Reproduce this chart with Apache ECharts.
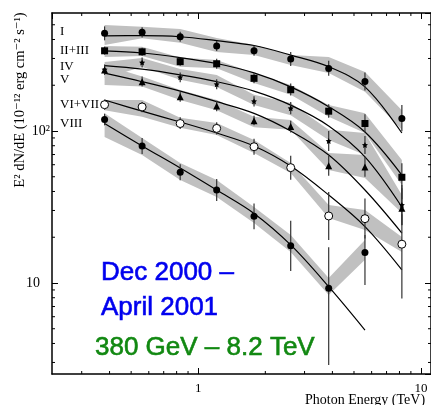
<!DOCTYPE html>
<html>
<head>
<meta charset="utf-8">
<script src="https://cdn.jsdelivr.net/npm/echarts@6/dist/echarts.min.js"></script>
<style>
  html, body { margin: 0; padding: 0; background: #fff; }
  #chart { width: 431px; height: 405px; }
</style>
</head>
<body>
<div id="chart"></div>
<script>
// Photon energy bins (TeV)
const energies = [0.38, 0.56, 0.83, 1.21, 1.78, 2.6, 3.85, 5.6, 8.2];

// Flux state I
const fluxI    = [439, 446, 417, 362, 337, 298, 258, 212, 121];
const errLoI   = [395, 413, 387, 336, 313, 268, 231, 185, 99.5];
const errHiI   = [488, 481, 450, 391, 364, 331, 290, 243, 148];
const bandLoI  = [368, 407, 381, 331, 316, 272, 241, 181, 102];
const bandHiI  = [498, 486, 469, 409, 368, 316, 307, 244, 137];
const fitI     = [422, 424, 417, 393, 365, 316, 265, 195, 97];

// Flux states II+III
const fluxII   = [337, 332, 286, 277, 222, 187, 135, 112, 49.6];
const errLoII  = [318, 313, 269, 257, 206, 171, 122, 98, 35.5];
const errHiII  = [359, 353, 304, 299, 240, 205, 150, 129, 61.3];
const bandLoII = [307, 311, 265, 259, 207, 173, 124, 97, 44.1];
const bandHiII = [362, 359, 305, 293, 241, 201, 148, 131, 64.5];
const fitII    = [337, 326, 304, 278, 241, 195, 144.5, 98.5, 51.3];

// Flux state IV
const fluxIV   = [254, 282, 226, 203, 157, 141, 86, 81, 32.6];
const errLoIV  = [235, 262, 209, 188, 145, 129, 73.8, 70.6, 24.1];
const errHiIV  = [274, 304, 243, 219, 169, 155, 100, 92.7, 44.1];
const bandLoIV = [223, 264, 217, 195, 148, 127, 87.3, 69.5, 30.2];
const bandHiIV = [284, 302, 256, 234, 173, 153, 102, 97, 37.9];
const fitIV    = [269, 255, 234, 211, 183, 148, 108, 67.5, 31.6];

// Flux state V
const fluxV    = [252, 211, 168, 146, 117, 107, 59, 58, 31];
const errLoV   = [234, 196, 156, 135, 109, 97.7, 50.8, 50, 24];
const errHiV   = [272, 228, 181, 158, 126, 117, 68.8, 67.7, 42];
const bandLoV  = [201, 196, 160, 137, 106, 102, 55.4, 49.1, 28.9];
const bandHiV  = [272, 228, 186, 160, 124, 118, 71.7, 69.5, 35.2];
const fitV     = [240, 211, 183, 156, 130.7, 100, 69.5, 40.9, 21.3];

// Flux states VI+VII
const fluxVI   = [149, 144, 112, 104, 78.8, 57.4, 27.6, 26.5, 18.0];
const errLoVI  = [138, 133, 103, 94.8, 69.8, 47.8, 19.2, 19.6, 7.9];
const errHiVI  = [161, 155, 123, 114, 89, 68.8, 39.7, 35.9, 28.3];
const bandLoVI = [137, 124, 105, 94.1, 71.7, 52.9, 26.8, 22.3, 16.0];
const bandHiVI = [160, 160, 122, 113, 87.3, 61.6, 32.6, 30.2, 20.1];
const fitVI    = [160, 135, 114.6, 97, 79.7, 58.8, 37.9, 23.5, 12.2];

// Flux state VIII (no 8.2 TeV bin)
const fluxVIII   = [119, 79.7, 53.5, 40.9, 27.5, 17.6, 9.23, 15.9];
const errLoVIII  = [109, 70.6, 47.4, 34.6, 22.6, 12.0, 2.89, 9.7];
const errHiVIII  = [130, 89.9, 60.4, 48.3, 33.4, 25.7, 17.2, 20.7];
const bandLoVIII = [91.3, 69.5, 47.6, 36.8, 24.8, 16.0, 8.34, 14.2];
const bandHiVIII = [131, 89.9, 61.6, 47.6, 31.6, 20.7, 10.8, 19.2];
const fitVIII    = [112, 79.7, 57.1, 40.9, 28.7, 17.8, 9.46, 4.9];

// Axis ranges and tick positions
const X_MIN = 0.2207, X_MAX = 11.08;
const Y_MIN = 2.519, Y_MAX = 597.5;
const xMinorTicks = [0.3, 0.4, 0.5, 0.6, 0.7, 0.8, 0.9, 2, 3, 4, 5, 6, 7, 8, 9];
const yMinorTicks = [3, 4, 5, 6, 7, 8, 9, 20, 30, 40, 50, 60, 70, 80, 90, 200, 300, 400, 500];

const SERIF = "'Liberation Serif', 'DejaVu Serif', serif";
const SANS = "'Liberation Sans', Arial, sans-serif";

const STAR = 'path://M0,-10 L2.9,-4 9.5,-3.1 4.7,1.5 5.9,8.1 0,5 -5.9,8.1 -4.7,1.5 -9.5,-3.1 -2.9,-4Z';

const states = [
  { name: 'I',      flux: fluxI,    lo: errLoI,    hi: errHiI,    bLo: bandLoI,    bHi: bandHiI,    fit: fitI,    symbol: 'circle',   size: 7, fill: '#000' },
  { name: 'II+III', flux: fluxII,   lo: errLoII,   hi: errHiII,   bLo: bandLoII,   bHi: bandHiII,   fit: fitII,   symbol: 'rect',     size: 7, fill: '#000' },
  { name: 'IV',     flux: fluxIV,   lo: errLoIV,   hi: errHiIV,   bLo: bandLoIV,   bHi: bandHiIV,   fit: fitIV,   symbol: STAR,       size: 6, fill: '#000' },
  { name: 'V',      flux: fluxV,    lo: errLoV,    hi: errHiV,    bLo: bandLoV,    bHi: bandHiV,    fit: fitV,    symbol: 'triangle', size: 7, fill: '#000' },
  { name: 'VI+VII', flux: fluxVI,   lo: errLoVI,   hi: errHiVI,   bLo: bandLoVI,   bHi: bandHiVI,   fit: fitVI,   symbol: 'circle',   size: 8, fill: '#fff' },
  { name: 'VIII',   flux: fluxVIII, lo: errLoVIII, hi: errHiVIII, bLo: bandLoVIII, bHi: bandHiVIII, fit: fitVIII, symbol: 'circle',   size: 7, fill: '#000' }
];

const series = [];

// grey systematic bands
states.forEach(s => {
  series.push({
    type: 'custom', name: s.name + ' band', z: 1, silent: true,
    data: s.bLo.map((v, i) => [energies[i], v, s.bHi[i]]),
    encode: { x: 0, y: [1, 2] },
    renderItem: (params, api) => {
      if (params.dataIndex !== 0) return null;
      const top = [], bot = [];
      for (let i = 0; i < s.bLo.length; i++) {
        top.push(api.coord([energies[i], s.bHi[i]]));
        bot.push(api.coord([energies[i], s.bLo[i]]));
      }
      return { type: 'polygon', shape: { points: top.concat(bot.reverse()) }, style: { fill: '#c0c0c0' } };
    }
  });
});

// fitted spectra
states.forEach(s => {
  series.push({
    type: 'line', name: s.name + ' fit', z: 2, silent: true,
    data: s.fit.map((v, i) => [energies[i], v]),
    smooth: 0.35, showSymbol: false, symbol: 'none',
    lineStyle: { color: '#000', width: 1.2 }
  });
});

// vertical error bars
states.forEach(s => {
  series.push({
    type: 'custom', name: s.name + ' err', z: 3, silent: true,
    data: s.lo.map((v, i) => [energies[i], v, s.hi[i]]),
    encode: { x: 0, y: [1, 2] },
    renderItem: (params, api) => {
      const e = api.value(0);
      const p1 = api.coord([e, api.value(1)]);
      const p2 = api.coord([e, api.value(2)]);
      return { type: 'line', shape: { x1: p1[0], y1: p1[1], x2: p2[0], y2: p2[1] },
               style: { stroke: '#333', lineWidth: 1.2 } };
    }
  });
});

// data points
states.forEach(s => {
  series.push({
    type: 'scatter', name: s.name, z: 4, silent: true,
    data: s.flux.map((v, i) => [energies[i], v]),
    symbol: s.symbol, symbolSize: s.size,
    itemStyle: { color: s.fill, borderColor: '#000', borderWidth: s.fill === '#fff' ? 1 : 0, opacity: 1 }
  });
});

// minor ticks on all four sides
const tickStyle = { stroke: '#000', lineWidth: 1 };
series.push({
  type: 'custom', name: 'x minor ticks', z: 5, silent: true, clip: false,
  data: xMinorTicks.map(v => [v, Y_MIN]),
  encode: { x: 0, y: 1 },
  renderItem: (params, api) => {
    const cs = params.coordSys;
    const p = api.coord([api.value(0), Y_MIN]);
    const b = cs.y + cs.height;
    return { type: 'group', children: [
      { type: 'line', shape: { x1: p[0], y1: b, x2: p[0], y2: b - 3 }, style: tickStyle },
      { type: 'line', shape: { x1: p[0], y1: cs.y, x2: p[0], y2: cs.y + 3 }, style: tickStyle }
    ] };
  }
});
series.push({
  type: 'custom', name: 'y minor ticks', z: 5, silent: true, clip: false,
  data: yMinorTicks.map(v => [X_MIN, v]),
  encode: { x: 0, y: 1 },
  renderItem: (params, api) => {
    const cs = params.coordSys;
    const p = api.coord([X_MIN, api.value(1)]);
    const r = cs.x + cs.width;
    return { type: 'group', children: [
      { type: 'line', shape: { x1: cs.x, y1: p[1], x2: cs.x + 3, y2: p[1] }, style: tickStyle },
      { type: 'line', shape: { x1: r, y1: p[1], x2: r - 3, y2: p[1] }, style: tickStyle }
    ] };
  }
});

const isDecade = v => Math.abs(Math.log10(v) - Math.round(Math.log10(v))) < 1e-6;

const axisLineStyle = { color: '#000', width: 1.5 };
const majorTick = { show: true, inside: true, length: 6, lineStyle: { color: '#000', width: 1 } };

const option = {
  animation: false,
  backgroundColor: '#fff',
  grid: { left: 52, top: 13, width: 381, height: 361, containLabel: false },
  xAxis: [
    {
      type: 'log', logBase: 10, min: X_MIN, max: X_MAX, position: 'bottom',
      axisLine: { show: true, lineStyle: axisLineStyle },
      axisTick: majorTick,
      splitLine: { show: false }, minorTick: { show: false },
      axisLabel: {
        show: true, margin: 8, color: '#000', fontFamily: SERIF, fontSize: 13,
        showMinLabel: false, showMaxLabel: false,
        formatter: v => isDecade(v) ? String(Math.round(v)) : ''
      }
    },
    {
      type: 'log', logBase: 10, min: X_MIN, max: X_MAX, position: 'top',
      axisLine: { show: true, lineStyle: axisLineStyle },
      axisTick: majorTick, axisLabel: { show: false }, splitLine: { show: false }
    }
  ],
  yAxis: [
    {
      type: 'log', logBase: 10, min: Y_MIN, max: Y_MAX, position: 'left',
      axisLine: { show: true, lineStyle: axisLineStyle },
      axisTick: majorTick,
      splitLine: { show: false }, minorTick: { show: false },
      axisLabel: {
        show: true, margin: 2, color: '#000', fontFamily: SERIF, fontSize: 14,
        showMinLabel: false, showMaxLabel: false,
        formatter: v => {
          if (Math.abs(v - 100) < 1e-6) return '{n|10²}';
          if (Math.abs(v - 10) < 1e-6) return '{p|10}';
          return '';
        },
        rich: {
          n: { fontFamily: SERIF, fontSize: 14, color: '#000' },
          p: { fontFamily: SERIF, fontSize: 14, color: '#000', padding: [0, 10, 0, 0] }
        }
      }
    },
    {
      type: 'log', logBase: 10, min: Y_MIN, max: Y_MAX, position: 'right',
      axisLine: { show: true, lineStyle: axisLineStyle },
      axisTick: majorTick, axisLabel: { show: false }, splitLine: { show: false }
    }
  ],
  series: series,
  graphic: [
    // flux state labels
    ...[['I', 32], ['II+III', 51], ['IV', 67], ['V', 80], ['VI+VII', 105], ['VIII', 124]].map(([t, y]) => ({
      type: 'text', left: 60, top: y - 7, silent: true,
      style: { text: t, font: `13px ${SERIF}`, fill: '#000' }
    })),
    {
      type: 'text', silent: true, x: 20, y: 100, rotation: Math.PI / 2,
      style: { text: 'E² dN/dE (10⁻¹² erg cm⁻² s⁻¹)', font: `14.5px ${SERIF}`, fill: '#000',
               align: 'center', verticalAlign: 'middle' }
    },
    {
      type: 'text', silent: true, x: 305, y: 400,
      style: { text: 'Photon Energy (TeV)', font: `14px ${SERIF}`, fill: '#000', verticalAlign: 'middle' }
    },
    {
      type: 'text', silent: true, x: 101, y: 273,
      style: { text: 'Dec 2000 –', font: `26px ${SANS}`, fill: '#0000ee', stroke: '#0000ee', lineWidth: 0.6, verticalAlign: 'middle' }
    },
    {
      type: 'text', silent: true, x: 101, y: 308,
      style: { text: 'April 2001', font: `26px ${SANS}`, fill: '#0000ee', stroke: '#0000ee', lineWidth: 0.6, verticalAlign: 'middle' }
    },
    {
      type: 'text', silent: true, x: 95, y: 348,
      style: { text: '380 GeV – 8.2 TeV', font: `26px ${SANS}`, fill: '#118811', stroke: '#118811', lineWidth: 0.6, verticalAlign: 'middle' }
    }
  ]
};

const chart = echarts.init(document.getElementById('chart'), null, { renderer: 'canvas' });
chart.setOption(option);
</script>
</body>
</html>
